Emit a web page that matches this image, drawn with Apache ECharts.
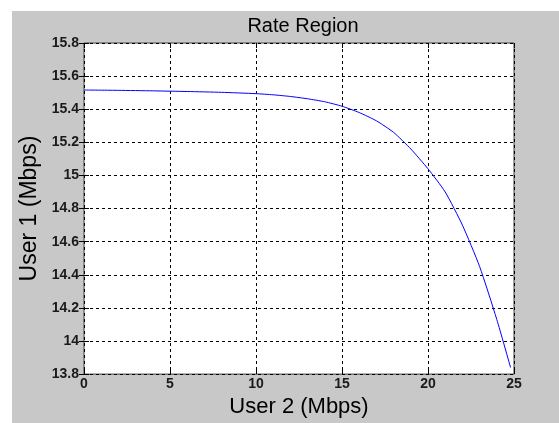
<!DOCTYPE html>
<html>
<head>
<meta charset="utf-8">
<script src="https://cdn.jsdelivr.net/npm/echarts@6/dist/echarts.min.js"></script>
<style>
  html, body { margin: 0; padding: 0; background: #ffffff; }
  #chart { width: 559px; height: 423px; }
</style>
</head>
<body>
<div id="chart"></div>
<script>
// Achievable rate boundary: User 2 rate (x) vs User 1 rate (y), in Mbps
const user2Rates = [0, 2, 4, 6, 8, 10, 11, 12, 13, 14, 15, 16, 17, 18, 19, 20, 21, 22, 23, 24, 24.8];
const user1Rates = [15.516, 15.514, 15.511, 15.507, 15.502, 15.494, 15.487, 15.477, 15.463, 15.445,
                    15.418, 15.38, 15.33, 15.26, 15.16, 15.04, 14.90, 14.70, 14.45, 14.13, 13.84];
const xTicks = [0, 5, 10, 15, 20, 25];
const yTicks = [13.8, 14, 14.2, 14.4, 14.6, 14.8, 15, 15.2, 15.4, 15.6, 15.8];

const chart = echarts.init(document.getElementById('chart'), null, { renderer: 'canvas' });

const font = 'Liberation Sans, Arial, sans-serif';
const tickFont = '"Liberation Sans Narrow", "Arial Narrow", "Liberation Sans", sans-serif';
const gridLine = { show: true, lineStyle: { color: '#000000', type: [3, 3], width: 1 } };
const tickIn = { show: true, inside: true, length: 5, lineStyle: { color: '#000000' } };

chart.setOption({
  animation: false,
  backgroundColor: '#ffffff',
  graphic: [{
    type: 'rect', z: -10, silent: true,
    shape: { x: 12, y: 11, width: 547, height: 412 },
    style: { fill: '#c8c8c8' }
  }],
  title: {
    text: 'Rate Region',
    left: 298, top: 11, textAlign: 'center',
    textStyle: { fontFamily: font, fontSize: 20, fontWeight: 'normal', color: '#000000' }
  },
  grid: {
    left: 84, right: 45, top: 43, bottom: 42,
    show: true, backgroundColor: '#ffffff', borderColor: '#404040', borderWidth: 1
  },
  xAxis: [{
    type: 'value', min: 0, max: 25, interval: 5,
    name: 'User 2 (Mbps)', nameLocation: 'middle', nameGap: 20,
    nameTextStyle: { fontFamily: font, fontSize: 22, color: '#000000' },
    axisLine: { show: false },
    axisTick: tickIn,
    splitLine: gridLine,
    axisLabel: {
      margin: 3, fontFamily: tickFont, fontSize: 14, fontWeight: 'bold', color: '#1a1a1a',
      formatter: v => xTicks.includes(v) ? String(v) : ''
    }
  }, {
    type: 'value', min: 0, max: 25, interval: 5, position: 'top',
    axisLine: { show: false }, axisTick: tickIn, axisLabel: { show: false }, splitLine: { show: false }
  }],
  yAxis: [{
    type: 'value', min: 13.8, max: 15.8, interval: 0.2,
    name: 'User 1 (Mbps)', nameLocation: 'middle', nameGap: 36,
    nameTextStyle: { fontFamily: font, fontSize: 23, color: '#000000' },
    axisLine: { show: false },
    axisTick: tickIn,
    splitLine: gridLine,
    axisLabel: {
      margin: 5, fontFamily: tickFont, fontSize: 14, fontWeight: 'bold', color: '#1a1a1a',
      formatter: v => {
        const t = yTicks.find(k => Math.abs(k - v) < 1e-6);
        return t === undefined ? '' : String(t);
      }
    }
  }, {
    type: 'value', min: 13.8, max: 15.8, interval: 0.2, position: 'right',
    axisLine: { show: false }, axisTick: tickIn, axisLabel: { show: false }, splitLine: { show: false }
  }],
  series: [{
    type: 'line',
    data: user2Rates.map((x, i) => [x, user1Rates[i]]),
    smooth: 0.2,
    showSymbol: false,
    lineStyle: { color: '#0000ff', width: 1 }
  }]
});
</script>
</body>
</html>
